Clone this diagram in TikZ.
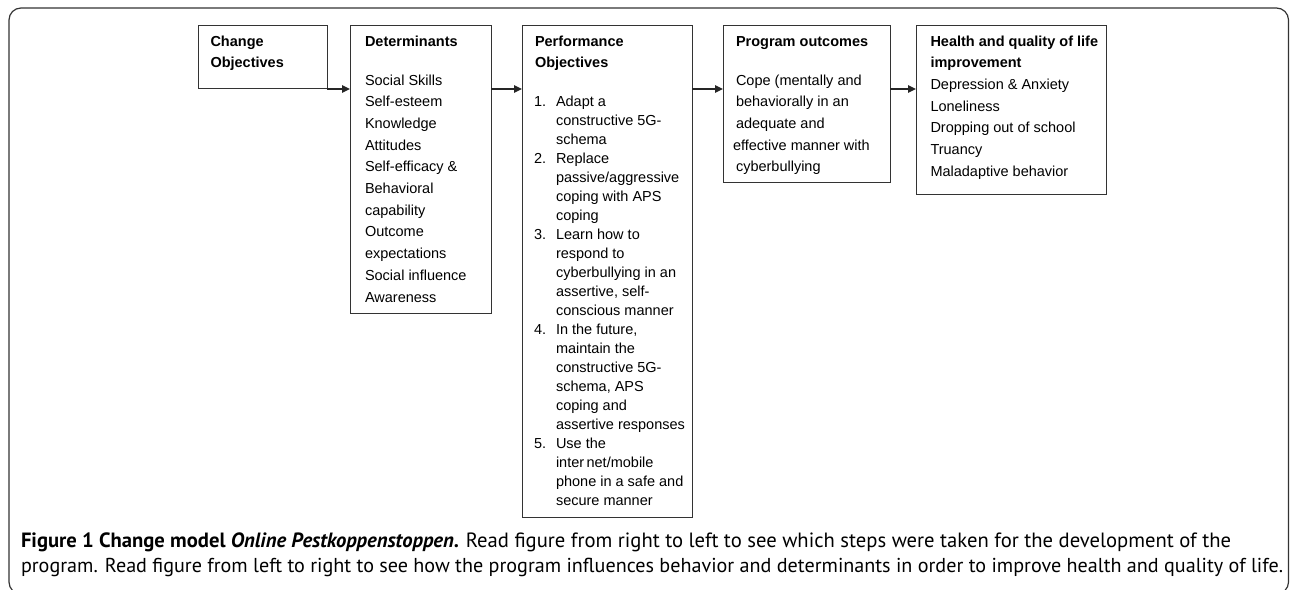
\documentclass[tikz,border=0pt]{standalone}
\usepackage{fontspec}
\setmainfont{Liberation Sans}
\newfontfamily\capfont{PT Sans}
\usetikzlibrary{arrows.meta}
\newcommand{\blk}[1]{\begin{tabular}[t]{@{}l@{}}#1\end{tabular}}
\newcommand{\nm}[1]{\makebox[22pt][l]{#1}}
\newcommand{\ind}{\hspace*{22pt}}
\begin{document}
\begin{tikzpicture}[x=1pt,y=-1pt,
  box/.style={draw=black!80, line width=0.9pt, inner sep=0pt, outer sep=0pt, anchor=north west},
  txt/.style={anchor=base west, inner sep=0pt, outer sep=0pt, font=\fontsize{14.5}{21.7}\selectfont},
  listtxt/.style={txt, font=\fontsize{14.5}{19}\selectfont},
  arr/.style={draw=black!85, line width=1.4pt, -{Triangle[length=8pt,width=7.5pt]}},
  captxt/.style={anchor=base west, inner sep=0pt, outer sep=0pt, font=\capfont\fontsize{19}{24}\selectfont}
]
\useasboundingbox (0,0) rectangle (1290,589);
% outer frame
\draw[rounded corners=12pt, line width=1.2pt, black!80] (9,8) rectangle (1288.5,594);

% boxes
\node[box, minimum width=129pt, minimum height=63pt] (co) at (198,25) {};
\node[box, minimum width=141pt, minimum height=288pt] (det) at (350,25) {};
\node[box, minimum width=170pt, minimum height=492pt] (perf) at (522,25) {};
\node[box, minimum width=167pt, minimum height=157pt] (po) at (723,25) {};
\node[box, minimum width=190pt, minimum height=169pt] (hq) at (916,25) {};

% texts
\node[txt] (coT) at (210.5,46) {\blk{\bfseries Change\\\bfseries Objectives}};
\node[txt] (detH) at (365,46) {\bfseries Determinants};
\node[txt] (detL) at (365,85) {\blk{Social Skills\\Self-esteem\\Knowledge\\Attitudes\\Self-efficacy \&\\Behavioral\\capability\\Outcome\\expectations\\Social influence\\Awareness}};
\node[txt] (perfH) at (535,46) {\blk{\bfseries Performance\\\bfseries Objectives}};
\node[listtxt] (perfL) at (534,106) {\blk{%
\nm{1.}Adapt a\\
\ind constructive 5G-\\
\ind schema\\
\nm{2.}Replace\\
\ind passive/aggressive\\
\ind coping with APS\\
\ind coping\\
\nm{3.}Learn how to\\
\ind respond to\\
\ind cyberbullying in an\\
\ind assertive, self-\\
\ind conscious manner\\
\nm{4.}In the future,\\
\ind maintain the\\
\ind constructive 5G-\\
\ind schema, APS\\
\ind coping and\\
\ind assertive responses\\
\nm{5.}Use the\\
\ind inter\,net/mobile\\
\ind phone in a safe and\\
\ind secure manner}};
\node[txt] (poH) at (736,46) {\bfseries Program outcomes};
\node[txt] (poL) at (733,85) {\blk{\hspace*{3pt}Cope (mentally and\\\hspace*{3pt}behaviorally in an\\\hspace*{3pt}adequate and\\effective manner with\\\hspace*{3pt}cyberbullying}};
\node[txt] (hqT) at (930.5,46) {\blk{\bfseries Health and quality of life\\\bfseries improvement\\Depression \& Anxiety\\Loneliness\\Dropping out of school\\Truancy\\Maladaptive behavior}};

% arrows
\coordinate (ay) at (0,89);
\draw[arr] (co.east |- ay) -- (det.west |- ay);
\draw[arr] (det.east |- ay) -- (perf.west |- ay);
\draw[arr] (perf.east |- ay) -- (po.west |- ay);
\draw[arr] (po.east |- ay) -- (hq.west |- ay);

% caption
\node[captxt] (cap1) at (21,547) {\resizebox{1210pt}{!}{\bfseries Figure 1 Change model \textit{Online Pestkoppenstoppen}. \mdseries Read figure from right to left to see which steps were taken for the development of the}};
\node[captxt] (cap2) at (21,572) {\resizebox{1262pt}{!}{program. Read figure from left to right to see how the program influences behavior and determinants in order to improve health and quality of life.}};
\end{tikzpicture}
\end{document}
